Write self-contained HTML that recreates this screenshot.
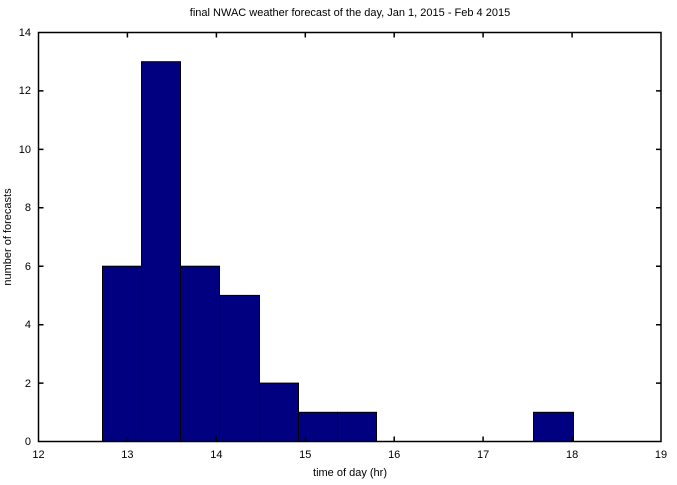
<!DOCTYPE html>
<html><head><style>body{margin:0;background:#fff}svg text{font-family:"Liberation Sans",sans-serif;font-size:11px;fill:#000}</style></head><body>
<svg width="677" height="480" xmlns="http://www.w3.org/2000/svg">
<g fill="#000080" stroke="#000" stroke-width="1">
<rect x="102.5" y="266.2" width="39" height="175.3"/>
<rect x="141.5" y="61.7" width="39" height="379.8"/>
<rect x="180.5" y="266.2" width="39" height="175.3"/>
<rect x="219.5" y="295.4" width="40" height="146.1"/>
<rect x="259.5" y="383.1" width="39" height="58.4"/>
<rect x="298.5" y="412.3" width="39" height="29.2"/>
<rect x="337.5" y="412.3" width="39" height="29.2"/>
<rect x="533.5" y="412.3" width="40" height="29.2"/>
</g>
<rect x="38.5" y="32.5" width="622.5" height="409" fill="none" stroke="#000" stroke-width="1.5"/>
<g stroke="#000" stroke-width="1.5">
<path d="M127.4 441.5v-5M127.4 32.5v5M216.4 441.5v-5M216.4 32.5v5M305.3 441.5v-5M305.3 32.5v5M394.2 441.5v-5M394.2 32.5v5M483.1 441.5v-5M483.1 32.5v5M572.1 441.5v-5M572.1 32.5v5"/>
<path d="M38.5 383.1h5M661 383.1h-5M38.5 324.7h5M661 324.7h-5M38.5 266.2h5M661 266.2h-5M38.5 207.8h5M661 207.8h-5M38.5 149.4h5M661 149.4h-5M38.5 90.9h5M661 90.9h-5"/>
</g>
<g text-anchor="middle">
<text x="38.5" y="458">12</text><text x="127.4" y="458">13</text><text x="216.4" y="458">14</text><text x="305.3" y="458">15</text><text x="394.2" y="458">16</text><text x="483.1" y="458">17</text><text x="572.1" y="458">18</text><text x="661" y="458">19</text>
<text x="350" y="476">time of day (hr)</text>
<text x="350" y="16">final NWAC weather forecast of the day, Jan 1, 2015 - Feb 4 2015</text>
</g>
<g text-anchor="end">
<text x="31" y="445">0</text><text x="31" y="387">2</text><text x="31" y="328">4</text><text x="31" y="270">6</text><text x="31" y="211">8</text><text x="31" y="153">10</text><text x="31" y="94">12</text><text x="31" y="36">14</text>
</g>
<text transform="translate(11,237) rotate(-90)" text-anchor="middle">number of forecasts</text>
</svg>
</body></html>
